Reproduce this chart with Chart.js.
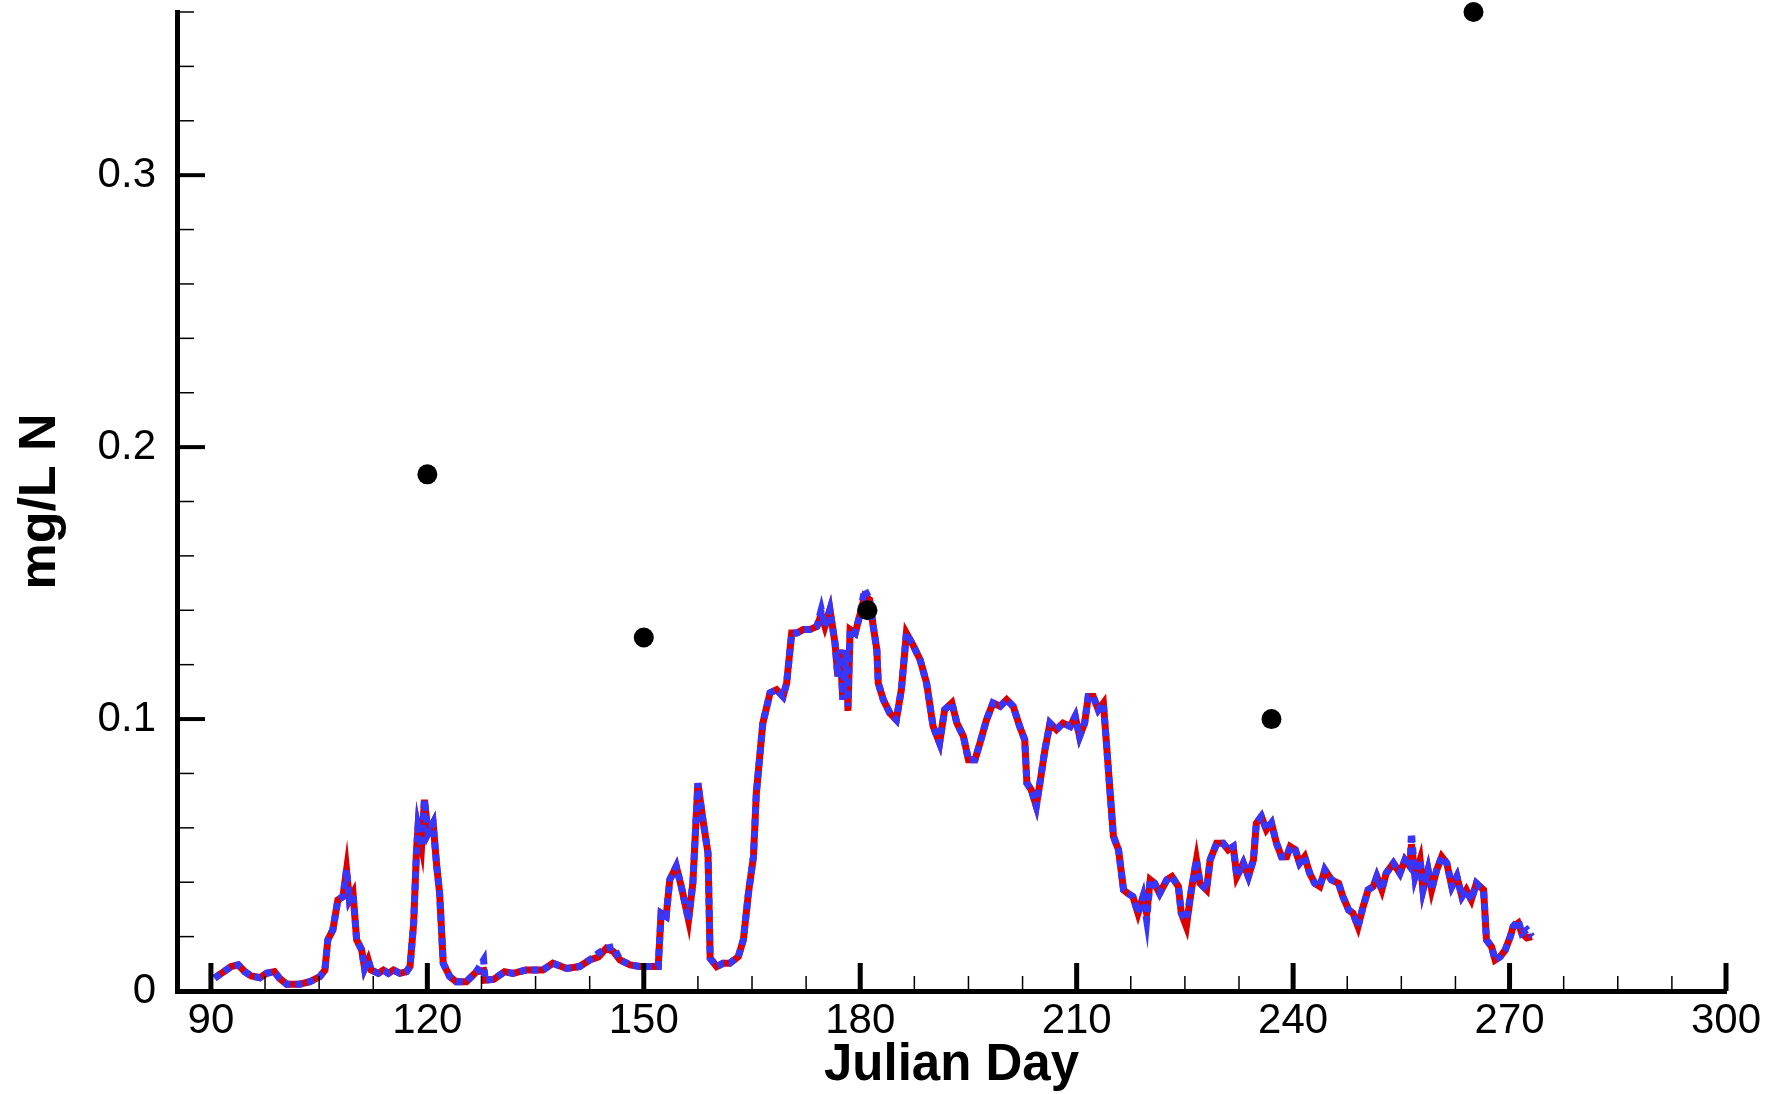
<!DOCTYPE html>
<html>
<head>
<meta charset="utf-8">
<script src="https://cdn.jsdelivr.net/npm/chart.js@4.4.0/dist/chart.umd.min.js"></script>
<style>
    body { margin: 0; background: #fff; }
    #wrap { width: 1767px; height: 1094px; position: relative; }
</style>
</head>
<body>
<div id="wrap"><canvas id="nChart"></canvas></div>
<script>
// Julian days of the simulated series
const days = [
    90.5, 92.1, 92.8, 93.8, 94.7, 95.6, 96.8, 97.7, 98.8, 99.5,
    100.5, 102.3, 103.7, 105.1, 105.8, 106.2, 106.9, 107.6, 108.3, 108.8,
    109.2, 109.7, 110.2, 110.9, 111.3, 111.8, 112.2, 113.2, 113.9, 114.6,
    115.3, 116.2, 117.1, 117.6, 118.1, 118.5, 118.7, 119.2, 119.6, 120.1,
    120.8, 121.3, 121.7, 122.2, 123.1, 124.0, 125.4, 126.8, 127.8, 128.0,
    129.2, 130.7, 131.9, 132.8, 133.7, 134.7, 136.0, 137.4, 139.3, 141.1,
    142.5, 143.7, 144.8, 145.8, 146.7, 148.1, 149.4, 150.8, 152.0, 152.4,
    153.1, 153.6, 154.5, 155.2, 156.2, 156.8, 157.5, 158.2, 158.9, 159.2,
    160.1, 161.0, 161.9, 163.1, 163.8, 164.5, 165.2, 165.6, 166.5, 167.5,
    168.4, 169.3, 169.8, 170.5, 171.2, 172.1, 173.0, 174.0, 174.6, 175.1,
    175.8, 176.5, 176.9, 177.2, 177.6, 178.1, 178.3, 178.6, 179.3, 179.9,
    180.6, 181.3, 181.8, 182.3, 182.5, 183.2, 184.1, 185.0, 185.7, 186.4,
    187.3, 188.3, 189.2, 190.1, 191.0, 191.7, 192.7, 193.4, 194.3, 195.0,
    195.9, 196.6, 197.5, 198.4, 199.4, 200.3, 201.2, 202.1, 202.8, 203.1,
    203.7, 204.4, 204.9, 205.6, 206.3, 207.2, 208.1, 209.1, 209.8, 210.4,
    211.1, 211.6, 212.3, 213.0, 213.7, 214.1, 214.6, 215.1, 215.8, 216.5,
    217.1, 217.8, 218.5, 219.2, 219.7, 220.2, 220.8, 221.5, 222.5, 223.2,
    224.1, 224.5, 225.2, 225.9, 226.6, 227.1, 228.0, 228.5, 229.4, 230.3,
    231.0, 231.7, 232.2, 233.1, 233.8, 234.5, 234.9, 235.6, 236.3, 237.0,
    237.7, 238.4, 239.1, 239.6, 240.3, 240.9, 241.6, 242.3, 243.0, 243.7,
    244.4, 245.3, 246.3, 246.9, 247.7, 248.3, 249.0, 249.7, 250.4, 251.1,
    251.6, 252.3, 252.9, 253.9, 254.8, 255.5, 256.2, 256.4, 256.9, 257.6,
    258.0, 258.7, 259.2, 259.9, 260.6, 261.3, 262.0, 262.7, 263.4, 264.0,
    264.7, 265.4, 266.4, 266.8, 267.5, 268.0, 268.7, 269.4, 270.1, 270.5,
    271.2, 271.7, 272.4, 273.1
];

// red solid run (mg/L N)
const runRed = [
    .0047, .0077, .009, .0096, .0071, .0055, .0049, .0065, .0071, .0047,
    .0025, .0025, .0034, .0053, .0077, .0188, .0225, .0335, .0347, .0445,
    .0335, .036, .0188, .0151, .0083, .0114, .0077, .0065, .0077, .0065,
    .0077, .0065, .0071, .009, .0249, .0519, .0599, .0531, .0703, .058,
    .0617, .0458, .036, .0102, .0053, .0034, .0034, .0071, .0075, .004,
    .0043, .0071, .0065, .0071, .0077, .0077, .0077, .0102, .0083, .009,
    .0114, .0125, .0157, .0145, .0114, .0096, .009, .009, .009, .0286,
    .0274, .0409, .0458, .0384, .0261, .0396, .0764, .0629, .0507, .012,
    .009, .0102, .0102, .0126, .0188, .0359, .0494, .0728, .0985, .1096,
    .1108, .1083, .1132, .1316, .1316, .1329, .1329, .1341, .1385, .1341,
    .1402, .128, .1157, .1255, .1071, .1255, .1030, .1329, .1316, .1378,
    .1452, .1439, .1341, .1255, .1132, .1071, .1022, .0997, .1108, .1316,
    .1273, .1218, .1132, .0973, .0912, .1034, .1059, .0985, .0936, .085,
    .085, .0912, .0997, .1059, .1047, .1071, .1047, .0973, .0924, .0764,
    .074, .068, .0764, .0887, .0985, .0961, .0985, .0973, .101, .0936,
    .0985, .1083, .1083, .1034, .1059, .092, .074, .0568, .0519, .0372,
    .0359, .0347, .0286, .0347, .0285, .0409, .0396, .0359, .0409, .0421,
    .0384, .0286, .0237, .0372, .0482, .0396, .0372, .0482, .0543, .0543,
    .0519, .0531, .0421, .047, .0421, .0482, .0617, .0642, .0593, .0617,
    .0543, .0494, .0494, .0531, .0519, .047, .0494, .0433, .0396, .0384,
    .0445, .0409, .0396, .0347, .0298, .0286, .0237, .031, .0372, .0384,
    .0421, .0372, .0433, .047, .0433, .0482, .0458, .054, .0421, .0482,
    .0372, .0445, .0372, .0445, .0494, .047, .0384, .0421, .0347, .0372,
    .0335, .0396, .0372, .0188, .0163, .0114, .0126, .0151, .02, .0237,
    .025, .0212, .0195, .02
];

// blue dashed run (mg/L N)
const runBlue = [
    .0047, .0077, .009, .0096, .0071, .0055, .0049, .0065, .0071, .0047,
    .0025, .0025, .0034, .0053, .0077, .0188, .0225, .0335, .0347, .0445,
    .0335, .036, .0188, .0151, .0083, .0114, .0077, .0065, .0077, .0065,
    .0077, .0065, .0071, .009, .0249, .0519, .0599, .0531, .0703, .058,
    .0617, .0458, .036, .0102, .0053, .0034, .0034, .0071, .0114, .004,
    .0043, .0071, .0065, .0071, .0077, .0077, .0077, .0102, .0083, .009,
    .0114, .0139, .0157, .0163, .0114, .0096, .009, .009, .009, .0286,
    .0274, .0409, .0458, .0384, .0261, .0396, .0764, .0629, .0507, .012,
    .009, .0102, .0102, .0126, .0188, .0359, .0494, .0728, .0985, .1096,
    .1108, .1083, .1132, .1316, .1316, .1329, .1329, .1341, .1402, .1341,
    .1402, .128, .1157, .1255, .1071, .1255, .1047, .1329, .1316, .1378,
    .1476, .1439, .1341, .1255, .1132, .1071, .1022, .0997, .1108, .1316,
    .1273, .1218, .1132, .0973, .0912, .1034, .1059, .0985, .0936, .085,
    .085, .0912, .0997, .1059, .1047, .1071, .1047, .0973, .0924, .0764,
    .074, .068, .0764, .0887, .0985, .0961, .0985, .0973, .101, .0936,
    .0985, .1083, .1083, .1034, .1059, .092, .074, .0568, .0519, .0372,
    .0359, .0347, .0286, .0347, .0261, .0409, .0396, .0359, .0409, .0421,
    .0384, .0286, .0262, .0372, .0482, .0396, .0372, .0482, .0543, .0543,
    .0519, .0531, .0421, .047, .0421, .0482, .0617, .0642, .0593, .0617,
    .0543, .0494, .0494, .0531, .0519, .047, .0494, .0433, .0396, .0384,
    .0445, .0409, .0396, .0347, .0298, .0286, .0237, .031, .0372, .0384,
    .0421, .0372, .0433, .047, .0433, .0482, .0458, .058, .0421, .0482,
    .0372, .0445, .0372, .0445, .0494, .047, .0384, .0421, .0347, .0372,
    .0335, .0396, .0372, .0188, .0163, .0114, .0126, .0151, .02, .0237,
    .0261, .0212, .0225, .02
];

// observations
const obsDays = [120, 150, 181, 237, 265];
const obsVals = [0.19, 0.13, 0.14, 0.10, 0.36];

// axis ticks
const xTicks = [90, 120, 150, 180, 210, 240, 270, 300];
const xMinor = [97.5, 105, 112.5, 127.5, 135, 142.5, 157.5, 165, 172.5, 187.5, 195, 202.5,
    217.5, 225, 232.5, 247.5, 255, 262.5, 277.5, 285, 292.5];
const yTicks = [0, 0.1, 0.2, 0.3];
const yMinor = [0.02, 0.04, 0.06, 0.08, 0.12, 0.14, 0.16, 0.18, 0.22, 0.24, 0.26, 0.28, 0.32, 0.34, 0.36];

const toPoints = (xs, ys) => xs.map((x, i) => ({ x: x, y: ys[i] }));

// ticks pointing into the plot, tecplot style
const innerTicks = {
    id: 'innerTicks',
    afterDatasetsDraw(chart) {
        const { ctx, scales: { x, y } } = chart;
        const x0 = x.getPixelForValue(x.min);
        const y0 = y.getPixelForValue(0);
        ctx.save();
        ctx.strokeStyle = '#000';
        ctx.lineCap = 'butt';
        const seg = (x1, y1, x2, y2, w) => {
            ctx.lineWidth = w;
            ctx.beginPath();
            ctx.moveTo(x1, y1);
            ctx.lineTo(x2, y2);
            ctx.stroke();
        };
        xTicks.forEach(v => { const p = x.getPixelForValue(v); seg(p, y0, p, y0 - 28, 5); });
        xMinor.forEach(v => { const p = x.getPixelForValue(v); seg(p, y0, p, y0 - 15, 1.5); });
        yTicks.forEach(v => { const p = y.getPixelForValue(v); seg(x0, p, x0 + 28, p, 4); });
        yMinor.forEach(v => { const p = y.getPixelForValue(v); seg(x0, p, x0 + 17, p, 1.5); });
        ctx.restore();
    }
};

const ctx = document.getElementById('nChart').getContext('2d');
const nChart = new Chart(ctx, {
    type: 'scatter',
    data: {
        datasets: [
            {
                label: 'Observed',
                data: toPoints(obsDays, obsVals),
                backgroundColor: '#000',
                borderWidth: 0,
                pointRadius: 10,
                clip: false,
                order: 0
            },
            {
                label: 'Run B',
                data: toPoints(days, runBlue),
                showLine: true,
                borderColor: '#3636ff',
                borderWidth: 7,
                borderDash: [7, 5],
                pointRadius: 0,
                order: 1
            },
            {
                label: 'Run A',
                data: toPoints(days, runRed),
                showLine: true,
                borderColor: '#dc0000',
                borderWidth: 7,
                pointRadius: 0,
                order: 2
            }
        ]
    },
    options: {
        responsive: true,
        maintainAspectRatio: false,
        animation: false,
        events: [],
        layout: { padding: { left: 0, right: 41, top: 12, bottom: 0 } },
        plugins: {
            legend: { display: false },
            tooltip: { enabled: false }
        },
        scales: {
            x: {
                type: 'linear',
                min: 85.3,
                max: 300,
                afterBuildTicks: s => { s.ticks = xTicks.map(v => ({ value: v })); },
                afterFit: s => { s.height = 103; s.paddingLeft = 0; s.paddingRight = 0; },
                grid: { display: false, drawTicks: false },
                border: { display: true, color: '#000', width: 5 },
                ticks: {
                    padding: 5,
                    color: '#000',
                    maxRotation: 0,
                    font: { family: 'Liberation Sans', size: 42 }
                },
                title: {
                    display: true,
                    text: 'Julian Day',
                    color: '#000',
                    padding: { top: 0, bottom: 3 },
                    font: { family: 'Liberation Sans', size: 51, weight: 'bold', lineHeight: 1 }
                }
            },
            y: {
                type: 'linear',
                min: 0,
                max: 0.36,
                afterBuildTicks: s => { s.ticks = yTicks.map(v => ({ value: v })); },
                afterFit: s => { s.width = 177; s.paddingTop = 0; s.paddingBottom = 0; },
                grid: { display: false, drawTicks: false },
                border: { display: true, color: '#000', width: 5 },
                ticks: {
                    padding: 21,
                    color: '#000',
                    font: { family: 'Liberation Sans', size: 42 },
                    callback: v => String(v)
                },
                title: {
                    display: true,
                    text: 'mg/L N',
                    color: '#000',
                    padding: { top: 15, bottom: 0 },
                    font: { family: 'Liberation Sans', size: 52, weight: 'bold', lineHeight: 1 }
                }
            }
        }
    },
    plugins: [innerTicks]
});
</script>
</body>
</html>
